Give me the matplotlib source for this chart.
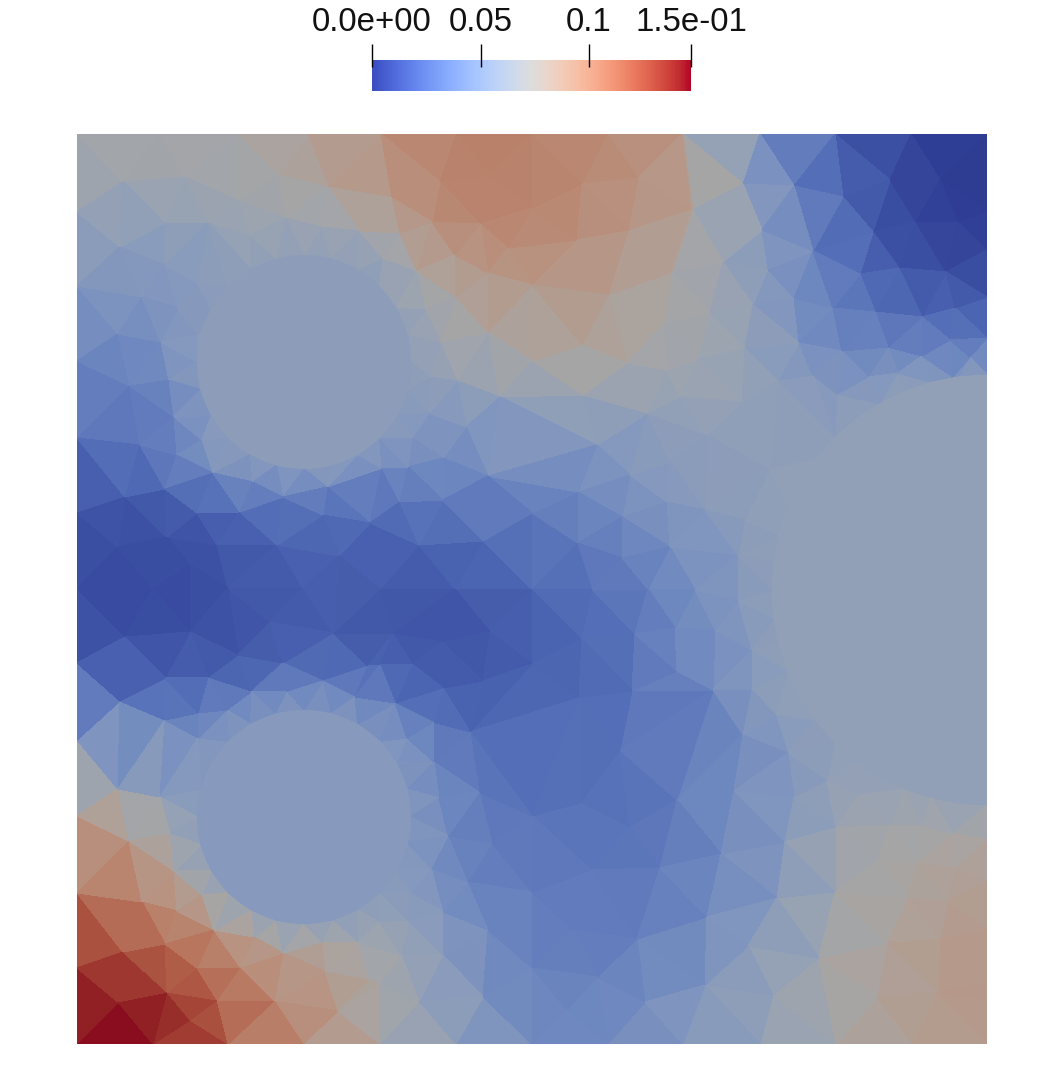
import numpy as np
import matplotlib
matplotlib.use('Agg')
import matplotlib.pyplot as plt
from matplotlib.colors import ListedColormap, Normalize
from matplotlib.patches import Circle
from matplotlib.tri import Triangulation
from matplotlib.colorbar import Colorbar

plt.rcParams['font.family'] = ['Liberation Sans', 'DejaVu Sans']

# mesh nodes (pixel position and scalar value)
node_x = [
    77, 160, 236, 307, 381, 456, 532, 607, 683, 760, 835, 911, 987,
    77, 153, 228, 303, 380, 456, 532, 608, 683, 760, 836, 912, 987,
    77, 77, 77, 77, 77, 77, 77, 77, 77, 77, 77,
    987, 987, 987, 987, 987, 987, 987, 987, 987,
    440, 490, 532, 582, 638, 432, 480, 508, 577, 628, 692, 392, 400, 455, 417, 488,
    532, 608, 672, 456, 425, 397, 488, 440, 408, 582, 627, 532, 663, 667, 700, 457,
    500, 583, 648, 430, 429, 466, 397, 412, 597,
    120, 165, 208, 250, 285, 322, 359, 328, 278, 123, 185, 237, 383,
    165, 197, 142, 178, 118, 161, 130, 169, 174, 140, 202, 213, 198,
    443, 488, 578, 630, 670, 667, 622, 532, 443, 408, 400, 483, 419, 578, 622, 670,
    532, 593, 648, 695, 455, 380, 675, 635, 582, 490, 393, 442, 412, 532, 483, 443,
    380, 677, 632, 579, 395, 433, 470, 620,
    177, 213, 125, 165, 197, 240, 253, 283, 323, 370, 327, 277, 217, 167, 118, 190,
    153, 228, 303, 339, 125, 190, 270, 333, 238, 208, 165, 120, 283, 368, 252, 323,
    288, 355, 165, 198, 227, 198, 382,
    118, 160, 129, 170, 142, 174, 202, 177, 214, 254, 283, 322, 357, 123, 165, 197,
    240, 118, 167, 217, 190, 274, 325, 338, 370, 380, 410,
    397, 407, 434, 408, 439, 479, 448, 408, 492, 532, 580, 677, 630, 591, 660, 532,
    467, 431, 397, 408, 443, 488, 573, 637, 532, 597, 645, 567, 483, 443, 401, 419, 380,
    788, 734, 794, 743, 827, 785, 836, 860, 888, 922, 953, 877, 918, 955, 835, 777,
    721, 707, 748, 705, 907, 948, 819, 887, 940, 773, 877, 937,
    743, 794, 843, 890, 940, 693, 762, 873, 916, 957, 813, 723, 768, 860, 899, 946,
    794, 753, 833, 922, 955, 875, 710, 950, 922, 888, 842, 799, 745, 970, 898, 868,
    837, 813, 778, 953, 742, 707, 680,
    705, 738, 738, 715, 752, 713, 752, 775, 770, 745,
]
node_y = [
    134, 134, 134, 134, 134, 134, 134, 134, 134, 134, 134, 134, 134,
    1044, 1044, 1044, 1044, 1044, 1044, 1044, 1044, 1044, 1044, 1044, 1044, 1044,
    212, 286, 361, 438, 513, 589, 663, 740, 816, 893, 968,
    212, 250, 297, 338, 839, 880, 927, 983, 1000,
    182, 177, 208, 184, 178, 222, 224, 248, 240, 231, 210, 198, 233, 255, 271, 273,
    285, 295, 272, 297, 310, 307, 332, 342, 334, 345, 363, 361, 325, 370, 358, 381,
    397, 395, 413, 377, 413, 427, 415, 438, 445,
    247, 223, 222, 235, 218, 227, 231, 187, 175, 182, 177, 200, 258,
    265, 283, 297, 308, 334, 342, 386, 380, 417, 445, 440, 415, 335,
    458, 476, 492, 475, 462, 502, 517, 513, 500, 467, 502, 541, 545, 543, 558, 547,
    589, 590, 589, 590, 589, 589, 628, 634, 639, 632, 634, 642, 664, 664, 681, 688,
    665, 671, 691, 698, 703, 722, 732, 750,
    455, 473, 497, 489, 513, 512, 482, 497, 515, 523, 487, 545, 545, 537, 547, 565,
    589, 588, 588, 556, 637, 632, 622, 633, 655, 677, 678, 701, 663, 666, 691, 681,
    692, 697, 720, 713, 710, 738, 468,
    789, 797, 841, 834, 902, 871, 895, 911, 930, 937, 953, 942, 942, 952, 944, 968,
    967, 1002, 992, 1000, 1020, 1001, 971, 1011, 979, 923, 893,
    762, 738, 762, 788, 798, 792, 836, 843, 843, 816, 803, 800, 828, 870, 868, 892,
    882, 868, 870, 921, 912, 930, 930, 939, 968, 977, 1002, 1010, 997, 955, 955, 1001, 983,
    753, 791, 797, 735, 780, 842, 828, 795, 825, 825, 834, 861, 862, 867, 892, 898,
    854, 917, 946, 985, 897, 900, 958, 943, 939, 995, 997, 992,
    184, 186, 197, 180, 180, 210, 230, 232, 222, 222, 251, 262, 269, 274, 268, 272,
    298, 305, 308, 317, 308, 312, 313, 340, 356, 347, 351, 343, 347, 357, 373, 377,
    394, 375, 380, 377, 402, 435, 397,
    510, 555, 600, 630, 650, 690, 690, 715, 470, 520,
]
node_v = [
    .072, .073, .076, .083, .095, .103, .103, .099, .088, .040, .018, .005, .000,
    .147, .147, .120, .095, .070, .060, .042, .040, .052, .062, .072, .084, .088,
    .062, .055, .040, .027, .012, .008, .014, .050, .085, .115, .135,
    .000, .003, .012, .028, .076, .082, .088, .090, .088,
    .102, .103, .103, .098, .095, .097, .101, .097, .095, .090, .083, .090, .080, .088, .075, .089,
    .089, .085, .076, .077, .066, .062, .078, .066, .060, .082, .076, .070, .073, .068, .068, .062,
    .062, .066, .055, .060, .050, .047, .055, .050, .050,
    .052, .058, .062, .066, .068, .066, .068, .080, .074, .070, .069, .068, .060,
    .055, .050, .045, .050, .040, .048, .030, .042, .030, .035, .050, .052, .052,
    .045, .038, .042, .050, .058, .050, .040, .030, .032, .040, .030, .025, .018, .030, .033, .045,
    .022, .026, .032, .045, .014, .014, .040, .027, .022, .012, .012, .012, .016, .016, .016, .017,
    .022, .040, .025, .024, .028, .028, .024, .024,
    .035, .047, .013, .018, .013, .022, .040, .033, .025, .020, .040, .018, .013, .010, .008, .008,
    .008, .011, .016, .020, .009, .009, .014, .015, .012, .020, .018, .028, .022, .020, .030, .030,
    .040, .040, .030, .035, .040, .045, .040,
    .070, .060, .090, .070, .100, .080, .080, .095, .095, .085, .085, .080, .072, .125, .115, .115,
    .100, .145, .135, .120, .135, .100, .085, .090, .075, .065, .055,
    .050, .050, .040, .048, .042, .030, .040, .055, .032, .027, .028, .030, .027, .030, .030, .033,
    .035, .045, .055, .060, .050, .040, .033, .032, .035, .035, .045, .040, .045, .055, .065, .065, .072,
    .050, .045, .050, .040, .060, .052, .066, .063, .070, .073, .074, .075, .076, .080, .070, .050,
    .040, .042, .055, .050, .076, .083, .070, .080, .087, .062, .080, .087,
    .060, .035, .020, .008, .002, .080, .055, .012, .005, .004, .040, .062, .052, .024, .012, .010,
    .043, .060, .033, .022, .020, .030, .070, .032, .040, .037, .040, .048, .063, .035, .050, .048,
    .050, .050, .055, .048, .060, .058, .066,
    .052, .052, .050, .045, .052, .040, .055, .057, .060, .057,
]

# the three holes: centre, radius, flat value, rim spacing and arc
hole_x = [304, 304, 987]
hole_y = [362, 817, 590]
hole_r = [107, 107, 215]
hole_v = [.057, .053, .060]
hole_step = [15, 15, 7.5]
hole_arc = [(0, 360), (0, 360), (90, 270)]

tick_vals = [0.0, 0.05, 0.1, 0.147]
tick_labels = ['0.0e+00', '0.05', '0.1', '1.5e-01']
vmax = 0.147

x = list(node_x)
y = list(node_y)
v = list(node_v)
for cx, cy, r, val, step, arc in zip(hole_x, hole_y, hole_r, hole_v, hole_step, hole_arc):
    for a in np.arange(arc[0], arc[1] + 0.1, step):
        x.append(cx + r * np.cos(np.radians(a)))
        y.append(cy + r * np.sin(np.radians(a)))
        v.append(val)
x = np.array(x, dtype=float)
y = np.array(y, dtype=float)
v = np.array(v, dtype=float)

# the mesh is drawn darker than the bar (scene lighting)
base = plt.get_cmap('coolwarm')(np.linspace(0, 1, 256))
dim = base.copy()
dim[:, :3] *= 0.75
mesh_cmap = ListedColormap(dim)
norm = Normalize(0, vmax)

W, H = 1064, 1078
fig = plt.figure(figsize=(W / 100, H / 100), dpi=100)
ax = fig.add_axes([77 / W, (H - 1044) / H, 910 / W, 910 / H])
tri = Triangulation(x, y)

# cell value, softened towards the neighbouring cells
own = v[tri.triangles].mean(axis=1)
face_v = own.copy()
for i, nb in enumerate(tri.neighbors):
    nb = nb[nb >= 0]
    face_v[i] = 0.6 * own[i] + 0.4 * own[nb].mean()

ax.tripcolor(tri, facecolors=face_v, cmap=mesh_cmap, norm=norm)
for cx, cy, r, val in zip(hole_x, hole_y, hole_r, hole_v):
    ax.add_patch(Circle((cx, cy), r, facecolor=mesh_cmap(norm(val)), edgecolor='none', zorder=3))
ax.set_xlim(77, 987)
ax.set_ylim(1044, 134)
ax.axis('off')

# colour bar
cax = fig.add_axes([372 / W, (H - 91) / H, 319 / W, 31 / H])
cb = Colorbar(cax, cmap=plt.get_cmap('coolwarm'), norm=norm, orientation='horizontal')
cb.outline.set_visible(False)
cb.set_ticks([])
cax.vlines(tick_vals, 24 / 31, 47 / 31, color='black', linewidth=1, clip_on=False, zorder=5)
for t, s in zip(tick_vals, tick_labels):
    cax.text(t, 60 / 31, s, ha='center', va='baseline', fontsize=23.8, color='#111111', clip_on=False)

fig.savefig('out.png', dpi=100)
